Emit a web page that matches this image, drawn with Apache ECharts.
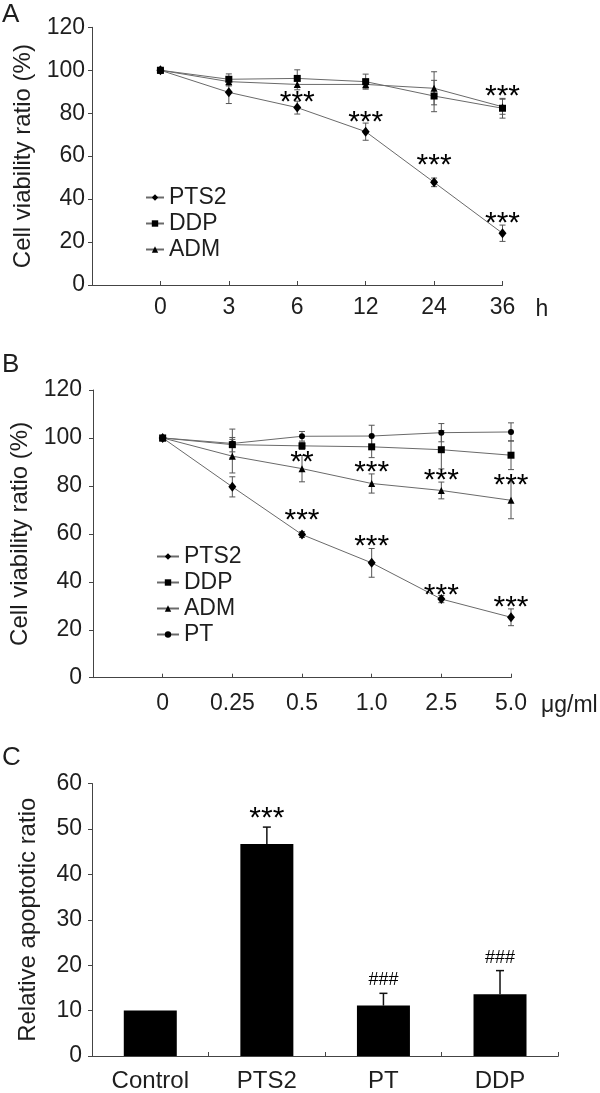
<!DOCTYPE html>
<html>
<head>
<meta charset="utf-8">
<script src="https://cdn.jsdelivr.net/npm/echarts@6/dist/echarts.min.js"></script>
<style>
html,body{margin:0;padding:0;background:#fff;}
#chart{width:600px;height:1093px;}
</style>
</head>
<body>
<div id="chart"></div>
<script>
// ---------- Panel A: time course ----------
const timeLabels = ['0', '3', '6', '12', '24', '36'];
const aPTS2 = [100, 89.7, 82.6, 71.4, 47.8, 24.1];
const aPTS2Err = [0.8, 5.2, 3.0, 4.0, 2.0, 3.8];
const aDDP = [100, 95.8, 96.2, 94.7, 88.0, 82.3];
const aDDPErr = [0.8, 2.5, 4.0, 3.5, 7.3, 4.6];
const aADM = [100, 94.7, 93.4, 93.4, 91.6, 83.0];
const aADMErr = [0.8, 2.0, 2.5, 2.0, 7.7, 3.5];
const aMarks = [[2, 88.3, '***'], [3, 78.8, '***'], [4, 59.0, '***'], [5, 91.1, '***'], [5, 31.8, '***']];

// ---------- Panel B: dose response ----------
const doseLabels = ['0', '0.25', '0.5', '1.0', '2.5', '5.0'];
const bPTS2 = [100, 79.6, 59.7, 47.9, 32.8, 25.2];
const bPTS2Err = [0.8, 4.2, 1.2, 6.0, 1.5, 3.5];
const bDDP = [100, 97.2, 96.7, 96.3, 95.1, 92.8];
const bDDPErr = [0.8, 3.0, 1.5, 4.5, 8.0, 6.0];
const bADM = [100, 92.4, 87.2, 81.0, 78.1, 74.0];
const bADMErr = [0.8, 7.0, 5.5, 4.0, 3.5, 7.7];
const bPT = [100, 97.7, 100.7, 100.8, 102.2, 102.5];
const bPTErr = [0.8, 6.0, 2.0, 4.5, 3.8, 3.8];
const bMarks = [[2, 92.5, '**'], [3, 88.3, '***'], [4, 85.2, '***'], [5, 82.8, '***'],
                [2, 68.2, '***'], [3, 57.7, '***'], [4, 37.2, '***'], [5, 31.9, '***']];

// ---------- Panel C: apoptosis ----------
const groups = ['Control', 'PTS2', 'PT', 'DDP'];
const cVals = [10, 46.7, 11.1, 13.6];
const cErr = [0, 3.7, 2.7, 5.2];
const cMarks = ['', '***', '###', '###'];

const FONT = '"Liberation Sans", Arial, Helvetica, sans-serif';
const TXT = '#1e1e1e';
const LINE = '#6a6a6a';
const ERR = '#555';

function lineSeries(name, vals, symbol, size, gi) {
  return {
    type: 'line', name, xAxisIndex: gi, yAxisIndex: gi,
    data: vals.map((v, i) => [i, v]),
    symbol, symbolSize: size, z: 3,
    lineStyle: {color: LINE, width: 1},
    itemStyle: {color: '#000'},
    emphasis: {disabled: true}
  };
}
function errSeries(vals, errs, gi) {
  return {
    type: 'custom', xAxisIndex: gi, yAxisIndex: gi, silent: true, z: 2,
    data: vals.map((v, i) => [i, v - errs[i], v + errs[i]]),
    encode: {x: 0, y: [1, 2]},
    renderItem: function (params, api) {
      const x = api.value(0);
      const lo = api.coord([x, api.value(1)]);
      const hi = api.coord([x, api.value(2)]);
      const w = 3;
      const st = {stroke: ERR, lineWidth: 1};
      return {type: 'group', children: [
        {type: 'line', shape: {x1: lo[0], y1: lo[1], x2: hi[0], y2: hi[1]}, style: st},
        {type: 'line', shape: {x1: lo[0] - w, y1: lo[1], x2: lo[0] + w, y2: lo[1]}, style: st},
        {type: 'line', shape: {x1: hi[0] - w, y1: hi[1], x2: hi[0] + w, y2: hi[1]}, style: st}
      ]};
    }
  };
}
function markSeries(marks, gi) {
  return {
    type: 'scatter', xAxisIndex: gi, yAxisIndex: gi, silent: true, z: 5,
    symbolSize: 0,
    itemStyle: {color: '#000', opacity: 1},
    data: marks.map(m => ({value: [m[0], m[1]], name: m[2]})),
    label: {show: true, position: 'inside', formatter: p => p.name, opacity: 1,
      fontSize: 30, color: '#000', textBorderWidth: 0, fontFamily: FONT, offset: [0, 7]}
  };
}
function lineXAxis(gi, labels, unit, unitGap, margin) {
  return {
    type: 'value', gridIndex: gi, min: -1, max: 5, interval: 1,
    name: unit, nameLocation: 'end', nameGap: unitGap,
    nameTextStyle: {fontSize: 23, color: TXT, fontFamily: FONT, verticalAlign: 'top', padding: [margin + 2, 0, 0, 0]},
    axisLine: {show: true, onZero: false, lineStyle: {color: '#444', width: 1}},
    axisTick: {show: true, inside: true, length: 4, lineStyle: {color: '#444'}, customValues: [0, 1, 2, 3, 4, 5]},
    axisLabel: {fontSize: 23, color: TXT, fontFamily: FONT, margin: margin,
      customValues: [0, 1, 2, 3, 4, 5], formatter: v => (v >= 0 ? labels[v] : '')},
    splitLine: {show: false}
  };
}
function lineYAxis(gi, margin, gap) {
  return {
    type: 'value', gridIndex: gi, min: 0, max: 120, interval: 20,
    name: 'Cell viability ratio (%)', nameLocation: 'middle', nameGap: gap,
    nameTextStyle: {fontSize: 24, color: TXT, fontFamily: FONT},
    axisLine: {show: true, onZero: false, lineStyle: {color: '#444', width: 1}},
    axisTick: {show: true, inside: false, length: 4, lineStyle: {color: '#444'}},
    axisLabel: {fontSize: 23, color: TXT, fontFamily: FONT, margin: margin},
    splitLine: {show: false}
  };
}

const option = {
  animation: false,
  backgroundColor: '#fff',
  textStyle: {fontFamily: FONT},
  grid: [
    {left: 92, top: 27.3, width: 410.5, height: 257.7},
    {left: 93, top: 390, width: 418, height: 287.7},
    {left: 92, top: 783.5, width: 466.3, height: 273.2}
  ],
  xAxis: [
    lineXAxis(0, timeLabels, 'h', 33, 11),
    lineXAxis(1, doseLabels, 'μg/ml', 30, 14),
    {
      type: 'category', gridIndex: 2, data: groups, boundaryGap: true,
      axisLine: {show: true, lineStyle: {color: '#444', width: 1}},
      axisTick: {show: true, inside: true, length: 4, alignWithLabel: false, lineStyle: {color: '#444'}},
      axisLabel: {fontSize: 24, color: TXT, fontFamily: FONT, margin: 13, interval: 0},
      splitLine: {show: false}
    }
  ],
  yAxis: [
    lineYAxis(0, 7, 51),
    lineYAxis(1, 11, 57),
    {
      type: 'value', gridIndex: 2, min: 0, max: 60, interval: 10,
      name: 'Relative apoptotic ratio', nameLocation: 'middle', nameGap: 52,
      nameTextStyle: {fontSize: 24, color: TXT, fontFamily: FONT},
      axisLine: {show: true, onZero: false, lineStyle: {color: '#444', width: 1}},
      axisTick: {show: true, inside: false, length: 4, lineStyle: {color: '#444'}},
      axisLabel: {fontSize: 23, color: TXT, fontFamily: FONT, margin: 10},
      splitLine: {show: false}
    }
  ],
  legend: [
    {data: ['PTS2', 'DDP', 'ADM'], orient: 'vertical', left: 140, top: 181,
      itemWidth: 18, itemHeight: 8, itemGap: 3, selectedMode: false,
      textStyle: {fontSize: 23, color: TXT, fontFamily: FONT, lineHeight: 23}},
    {data: ['PTS2', 'DDP', 'ADM', 'PT'], orient: 'vertical', left: 151, top: 540,
      itemWidth: 22, itemHeight: 8, itemGap: 3, selectedMode: false,
      textStyle: {fontSize: 23, color: TXT, fontFamily: FONT, lineHeight: 23}}
  ],
  graphic: [
    {type: 'text', left: 2, top: 2, style: {text: 'A', fontSize: 26, fill: TXT, fontFamily: FONT}},
    {type: 'text', left: 2, top: 352, style: {text: 'B', fontSize: 26, fill: TXT, fontFamily: FONT}},
    {type: 'text', left: 2, top: 745, style: {text: 'C', fontSize: 26, fill: TXT, fontFamily: FONT}}
  ],
  series: [
    errSeries(aPTS2, aPTS2Err, 0), errSeries(aDDP, aDDPErr, 0), errSeries(aADM, aADMErr, 0),
    lineSeries('PTS2', aPTS2, 'diamond', [8, 10], 0),
    lineSeries('DDP', aDDP, 'rect', 7, 0),
    lineSeries('ADM', aADM, 'triangle', 7, 0),
    markSeries(aMarks, 0),

    errSeries(bPTS2, bPTS2Err, 1), errSeries(bDDP, bDDPErr, 1), errSeries(bADM, bADMErr, 1), errSeries(bPT, bPTErr, 1),
    lineSeries('PTS2', bPTS2, 'diamond', [8, 10], 1),
    lineSeries('DDP', bDDP, 'rect', 7, 1),
    lineSeries('ADM', bADM, 'triangle', 7, 1),
    lineSeries('PT', bPT, 'circle', 6, 1),
    markSeries(bMarks, 1),

    {
      type: 'bar', xAxisIndex: 2, yAxisIndex: 2, data: cVals, barWidth: 53,
      itemStyle: {color: '#000'}, z: 2, emphasis: {disabled: true}
    },
    {
      type: 'custom', xAxisIndex: 2, yAxisIndex: 2, silent: true, z: 3,
      data: groups.map((g, i) => [i, cVals[i], cVals[i] + cErr[i], cMarks[i]]),
      encode: {x: 0, y: [1, 2]},
      renderItem: function (params, api) {
        const i = params.dataIndex;
        const base = api.coord([api.value(0), api.value(1)]);
        const top = api.coord([api.value(0), api.value(2)]);
        const ch = [];
        if (cErr[i] > 0) {
          ch.push({type: 'line', shape: {x1: base[0], y1: base[1], x2: top[0], y2: top[1]}, style: {stroke: '#111', lineWidth: 1.5}});
          ch.push({type: 'line', shape: {x1: top[0] - 4, y1: top[1], x2: top[0] + 4, y2: top[1]}, style: {stroke: '#111', lineWidth: 1.5}});
        }
        const mk = cMarks[i];
        if (mk) {
          const star = mk.indexOf('*') >= 0;
          ch.push({type: 'text', x: top[0], y: top[1] - (star ? 8 : 13),
            style: {text: mk, fontSize: star ? 30 : 18, fill: '#000', fontFamily: FONT,
              align: 'center', verticalAlign: 'middle'}});
        }
        return {type: 'group', children: ch};
      }
    }
  ]
};

const chart = echarts.init(document.getElementById('chart'), null, {renderer: 'canvas'});
chart.setOption(option);
</script>
</body>
</html>
